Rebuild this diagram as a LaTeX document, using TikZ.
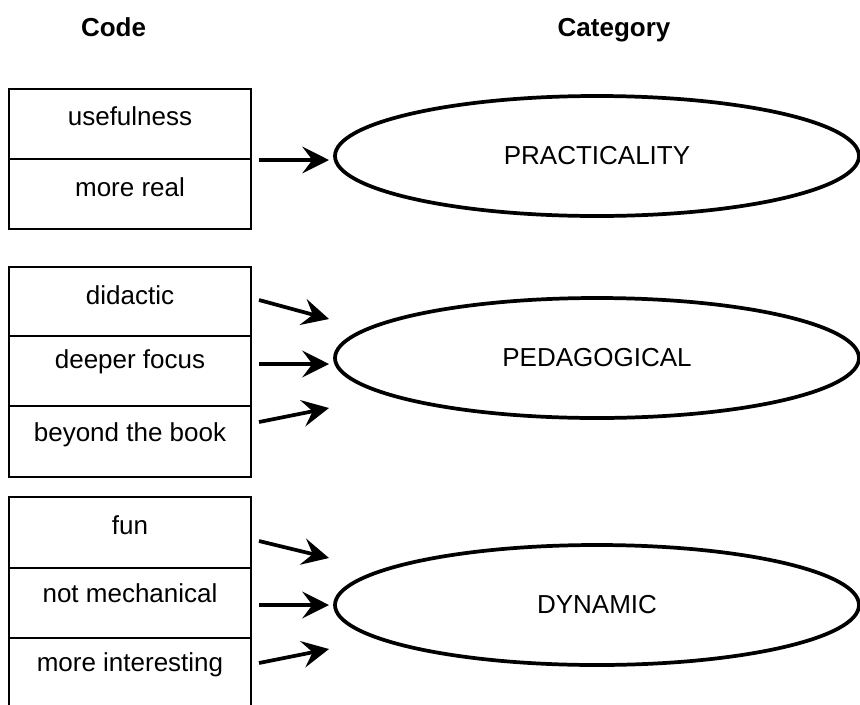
\documentclass[tikz,border=0pt]{standalone}
\usepackage{fontspec}
\setmainfont{Liberation Sans}
\usetikzlibrary{shapes.geometric,arrows.meta}
\begin{document}
\begin{tikzpicture}[x=0.75pt,y=-0.75pt,
  cell/.style={draw, line width=1.8pt, minimum width=242*0.75pt, inner sep=0pt, font=\fontsize{19.5}{23}\selectfont},
  cat/.style={draw, ellipse, line width=2.8pt, minimum width=524*0.75pt, minimum height=120*0.75pt, inner sep=0pt, font=\fontsize{19.5}{23}\selectfont},
  head/.style={font=\fontsize{19.5}{23}\selectfont\bfseries, inner sep=0pt, anchor=base},
  arr/.style={line width=2.8pt, -{Stealth[length=20pt,width=20pt,inset=7.5pt]}},
  txt/.style={font=\fontsize{19.5}{23}\selectfont, inner sep=0pt}]
\useasboundingbox (0,0) rectangle (860,704);
\begin{scope}
\clip (0,0) rectangle (860,704);
\node[head] (hcode) at (113.5,36.5) {Code};
\node[head] (hcat) at (614,36.5) {Category};
% group 1
\node[cell, minimum height=70*0.75pt] (b11) at (130,124) {};
\node[cell, minimum height=70*0.75pt] (b12) at (130,194) {};
\node[txt] (t11) at (130,116) {usefulness};
\node[txt] (t12) at (130,187) {more real};
\node[cat] (e1) at (597,156) {PRACTICALITY};
% group 2
\node[cell, minimum height=69*0.75pt] (b21) at (130,301.5) {};
\node[cell, minimum height=70*0.75pt] (b22) at (130,371) {};
\node[cell, minimum height=71*0.75pt] (b23) at (130,441.5) {};
\node[txt] (t21) at (130,295) {didactic};
\node[txt] (t22) at (130,362) {deeper focus};
\node[txt] (t23) at (130,435) {beyond the book};
\node[cat] (e2) at (597,358) {PEDAGOGICAL};
% group 3
\node[cell, minimum height=71*0.75pt] (b31) at (130,532.5) {};
\node[cell, minimum height=70*0.75pt] (b32) at (130,603) {};
\node[cell, minimum height=70*0.75pt] (b33) at (130,673) {};
\node[txt] (t31) at (130,525) {fun};
\node[txt] (t32) at (130,593) {not mechanical};
\node[txt] (t33) at (130,665) {more interesting};
\node[cat] (e3) at (597,605) {DYNAMIC};
% arrows
\coordinate (s1) at (259,160); \coordinate (d1) at (329,160);
\coordinate (s21) at (259,300); \coordinate (d21) at (329,319);
\coordinate (s22) at (259,364); \coordinate (d22) at (329,364);
\coordinate (s23) at (259,422); \coordinate (d23) at (329,408);
\coordinate (s31) at (259,541); \coordinate (d31) at (329,558);
\coordinate (s32) at (259,605); \coordinate (d32) at (329,605);
\coordinate (s33) at (259,663); \coordinate (d33) at (329,649);
\draw[arr] (s1) -- (d1);
\draw[arr] (s21) -- (d21);
\draw[arr] (s22) -- (d22);
\draw[arr] (s23) -- (d23);
\draw[arr] (s31) -- (d31);
\draw[arr] (s32) -- (d32);
\draw[arr] (s33) -- (d33);
\end{scope}
\end{tikzpicture}
\end{document}
